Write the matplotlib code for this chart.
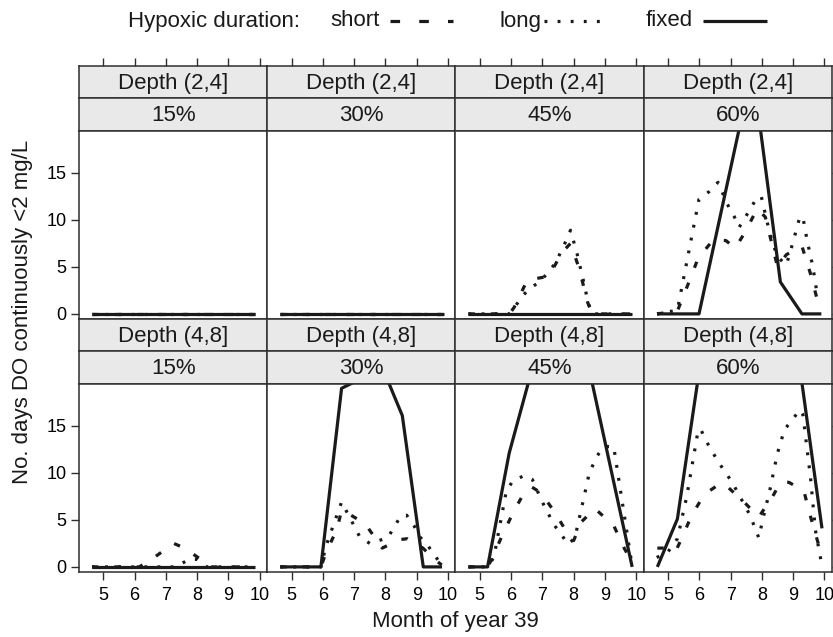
import matplotlib
matplotlib.use("Agg")
import matplotlib.pyplot as plt
from matplotlib.lines import Line2D

plt.rcParams['font.family'] = ['Liberation Sans', 'DejaVu Sans']

# ---- labels / ticks -------------------------------------------------------
depth_labels = ["Depth (2,4]", "Depth (4,8]"]
level_labels = ["15%", "30%", "45%", "60%"]
month_ticks = [5, 6, 7, 8, 9, 10]
day_ticks = [0, 5, 10, 15]

# ---- series: month (x) and number of days (y) ----------------------------
flat_x = [4.63, 9.86]
flat_y = [0, 0]

# Depth (2,4], 45%
d24_45_short_x = [4.64, 5.95, 6.10, 6.52, 7.21, 7.62, 7.90, 8.17, 8.45, 8.60, 9.87]
d24_45_short_y = [0, 0, 0.7, 3.6, 4.0, 6.5, 7.5, 4.9, 1.2, 0, 0]
d24_45_long_x = [4.64, 5.95, 6.10, 6.33, 6.60, 6.95, 7.42, 7.76, 7.90, 8.11, 8.30, 8.47, 8.60, 9.87]
d24_45_long_y = [0, 0, 0.6, 1.8, 2.7, 3.5, 5.4, 7.8, 8.9, 6.4, 3.7, 1.1, 0, 0]

# Depth (2,4], 60%
d24_60_fixed_x = [4.65, 5.99, 7.36, 7.90, 8.59, 9.28, 9.90]
d24_60_fixed_y = [0, 0, 21.0, 21.0, 3.4, 0, 0]
d24_60_short_x = [4.65, 5.30, 5.67, 5.96, 6.45, 6.85, 7.15, 7.48, 7.85, 8.11, 8.50, 8.78, 9.28, 9.55, 9.77]
d24_60_short_y = [0, 0.3, 3.4, 5.9, 7.9, 7.8, 7.0, 8.8, 11.2, 10.3, 5.0, 6.3, 7.2, 4.3, 1.5]
d24_60_long_x = [4.65, 5.30, 5.99, 6.31, 6.60, 6.89, 7.11, 7.27, 7.42, 7.83, 7.98, 8.25, 8.49,
                 8.78, 9.00, 9.21, 9.31, 9.44, 9.63, 9.76]
d24_60_long_y = [0, 0.4, 12.2, 13.0, 14.0, 11.7, 10.4, 9.2, 10.0, 12.3, 12.5, 8.6, 6.1,
                 5.2, 7.7, 10.3, 10.3, 7.9, 5.0, 2.2]

# Depth (4,8], 15%
d48_15_short_x = [4.64, 6.15, 6.50, 7.25, 7.60, 8.20, 8.35, 9.85]
d48_15_short_y = [0, 0, 0.7, 2.5, 2.0, 0.6, 0, 0]
d48_15_long_x = [4.64, 7.30, 7.75, 8.00, 8.30, 9.85]
d48_15_long_y = [0, 0, 0.8, 0.8, 0, 0]

# Depth (4,8], 30%
d48_30_fixed_x = [4.64, 5.94, 6.60, 7.27, 7.93, 8.54, 9.21, 9.81]
d48_30_fixed_y = [0, 0, 19.0, 20.1, 21.0, 16.1, 0, 0]
d48_30_short_x = [4.64, 5.94, 6.10, 6.45, 6.60, 6.85, 7.35, 7.90, 8.45, 8.70, 9.20, 9.50, 9.80]
d48_30_short_y = [0, 0, 1.5, 4.0, 6.0, 5.6, 4.6, 2.0, 2.9, 3.0, 2.0, 1.0, 0.2]
d48_30_long_x = [4.64, 5.94, 6.10, 6.60, 6.98, 7.18, 7.50, 8.08, 8.27, 8.49, 8.68, 8.91,
                 9.10, 9.37, 9.60, 9.80]
d48_30_long_y = [0, 0, 2.2, 6.9, 4.5, 3.2, 2.5, 3.1, 4.2, 5.4, 5.5, 4.4,
                 3.2, 2.2, 1.1, 0.2]

# Depth (4,8], 45%
d48_45_fixed_x = [4.64, 5.25, 5.94, 6.93, 8.27, 9.87]
d48_45_fixed_y = [0, 0, 12.1, 24.2, 24.5, 0]
d48_45_short_x = [4.64, 5.25, 5.41, 5.71, 6.07, 6.42, 6.66, 6.95, 7.40, 7.85, 8.00, 8.25,
                  8.68, 9.28, 9.63, 9.75]
d48_45_short_y = [0, 0, 1.0, 3.3, 5.8, 7.9, 8.5, 7.9, 5.8, 3.3, 2.8, 4.8,
                  6.2, 4.4, 1.9, 1.2]
d48_45_long_x = [4.64, 5.25, 5.45, 5.85, 6.07, 6.42, 6.68, 7.00, 7.37, 7.83, 8.04, 8.25,
                 8.50, 8.75, 8.96, 9.28, 9.85]
d48_45_long_y = [0, 0, 1.0, 8.1, 9.2, 9.7, 9.3, 6.9, 4.5, 2.4, 3.1, 6.2,
                 10.0, 11.8, 12.8, 12.8, 0.5]

# Depth (4,8], 60%
d48_60_fixed_x = [4.66, 5.30, 6.27, 8.93, 9.92]
d48_60_fixed_y = [0, 5.1, 27.0, 28.0, 4.1]
d48_60_short_x = [4.66, 5.00, 5.25, 5.46, 5.73, 6.10, 6.20, 6.68, 6.84, 7.40, 7.90, 8.22,
                  8.33, 8.59, 8.86, 9.34, 9.55, 9.80]
d48_60_short_y = [2.0, 2.0, 1.7, 3.2, 5.3, 7.4, 7.8, 8.9, 8.7, 7.0, 5.3, 6.9,
                  7.4, 9.0, 9.0, 8.1, 5.4, 2.5]
d48_60_long_x = [4.64, 5.00, 5.30, 5.60, 5.94, 6.04, 6.20, 6.60, 7.05, 7.62, 7.90, 8.06,
                 8.25, 8.49, 8.72, 8.96, 9.21, 9.31, 9.55, 9.71, 9.92]
d48_60_long_y = [1.0, 1.6, 3.0, 7.5, 14.1, 14.7, 13.5, 11.2, 9.0, 5.5, 3.1, 5.5,
                 8.1, 12.0, 14.6, 15.6, 16.7, 16.2, 9.6, 3.9, 0.1]

# (row, column) -> series per hypoxic duration
panels = {
    (0, 0): {"short": (flat_x, flat_y), "long": (flat_x, flat_y), "fixed": (flat_x, flat_y)},
    (0, 1): {"short": (flat_x, flat_y), "long": (flat_x, flat_y), "fixed": (flat_x, flat_y)},
    (0, 2): {"short": (d24_45_short_x, d24_45_short_y), "long": (d24_45_long_x, d24_45_long_y),
             "fixed": (flat_x, flat_y)},
    (0, 3): {"short": (d24_60_short_x, d24_60_short_y), "long": (d24_60_long_x, d24_60_long_y),
             "fixed": (d24_60_fixed_x, d24_60_fixed_y)},
    (1, 0): {"short": (d48_15_short_x, d48_15_short_y), "long": (d48_15_long_x, d48_15_long_y),
             "fixed": (flat_x, flat_y)},
    (1, 1): {"short": (d48_30_short_x, d48_30_short_y), "long": (d48_30_long_x, d48_30_long_y),
             "fixed": (d48_30_fixed_x, d48_30_fixed_y)},
    (1, 2): {"short": (d48_45_short_x, d48_45_short_y), "long": (d48_45_long_x, d48_45_long_y),
             "fixed": (d48_45_fixed_x, d48_45_fixed_y)},
    (1, 3): {"short": (d48_60_short_x, d48_60_short_y), "long": (d48_60_long_x, d48_60_long_y),
             "fixed": (d48_60_fixed_x, d48_60_fixed_y)},
}

# ---- styling --------------------------------------------------------------
INK = "#1a1a1a"
FRAME = "#2e2e2e"
STRIP_BG = "#e9e9e9"
LW = 2.3
styles = {
    "short": dict(linestyle=(0, (2.0, 5.0)), lw=LW, dash_capstyle="butt"),
    "long": dict(linestyle=(0, (0.9, 3.2)), lw=LW, dash_capstyle="butt"),
    "fixed": dict(linestyle="-", lw=LW, solid_capstyle="butt"),
}

W, H = 833, 637
fig = plt.figure(figsize=(W / 100, H / 100), dpi=100)

x_limits = (4.225, 10.24)
y_limits = (-0.5, 19.5)

col_left = 79.0
col_w = 188.25
strip_h = 32.3
panel_h = 188.0
row_top = [66.0, 319.0]  # top of the first strip of each row (pixels from top)


def fig_rect(x0, y0, w, h):
    return [x0 / W, 1 - (y0 + h) / H, w / W, h / H]


TICK_KW = dict(direction="out", length=6, width=1.0, color=FRAME, labelsize=13)

for (r, c), series in panels.items():
    x0 = col_left + c * col_w
    top = row_top[r]
    # strips
    for k, label in enumerate([depth_labels[r], level_labels[c]]):
        sax = fig.add_axes(fig_rect(x0, top + k * strip_h, col_w, strip_h))
        sax.set_facecolor(STRIP_BG)
        sax.set_xlim(x_limits)
        sax.set_ylim(0, 1)
        sax.set_yticks([])
        for sp in sax.spines.values():
            sp.set_color(FRAME)
            sp.set_linewidth(1.1)
        sax.text(0.5, 0.47, label, transform=sax.transAxes, ha="center", va="center",
                 fontsize=16, color="#1a1a1a")
        if r == 0 and k == 0:
            sax.xaxis.set_ticks_position("top")
            sax.set_xticks(month_ticks)
            sax.tick_params(axis="x", labeltop=False, labelbottom=False, **TICK_KW)
        else:
            sax.set_xticks([])

    # data panel
    ax = fig.add_axes(fig_rect(x0, top + 2 * strip_h, col_w, panel_h))
    ax.set_xlim(x_limits)
    ax.set_ylim(y_limits)
    for sp in ax.spines.values():
        sp.set_color(FRAME)
        sp.set_linewidth(1.1)
    for name in ["short", "long", "fixed"]:
        xs, ys = series[name]
        ax.plot(xs, ys, color=INK, **styles[name])

    if r == 1:
        ax.set_xticks(month_ticks)
        ax.tick_params(axis="x", pad=5, **TICK_KW)
    else:
        ax.set_xticks([])
    if c == 0:
        ax.set_yticks(day_ticks)
        ax.tick_params(axis="y", pad=3, **TICK_KW)
    elif c == 3:
        ax.set_yticks(day_ticks)
        ax.yaxis.set_ticks_position("right")
        ax.tick_params(axis="y", labelright=False, labelleft=False, **TICK_KW)
    else:
        ax.set_yticks([])

# ---- axis titles ----------------------------------------------------------
fig.text(455.5 / W, 1 - 622 / H, "Month of year 39", ha="center", va="center",
         fontsize=16, color="#1a1a1a")
fig.text(23 / W, 1 - 312 / H, "No. days DO continuously <2 mg/L", ha="center", va="center",
         rotation=90, fontsize=16, color="#1a1a1a")

# ---- key ------------------------------------------------------------------
key_y = 1 - 21 / H
fig.text(128 / W, key_y, "Hypoxic duration:", ha="left", va="center", fontsize=16, color="#1a1a1a")
key_items = [("short", 330, 390, 453, (0, (3.0, 6.0))),
             ("long", 500, 544, 602, styles["long"]["linestyle"]),
             ("fixed", 646, 703, 767, "-")]
for name, tx, lx0, lx1, ls in key_items:
    fig.text(tx / W, key_y, name, ha="left", va="center", fontsize=16, color="#1a1a1a")
    fig.add_artist(Line2D([lx0 / W, lx1 / W], [key_y, key_y],
                          transform=fig.transFigure, color=INK, lw=LW, linestyle=ls,
                          dash_capstyle="butt", solid_capstyle="butt"))

fig.savefig("out.png", dpi=100)
